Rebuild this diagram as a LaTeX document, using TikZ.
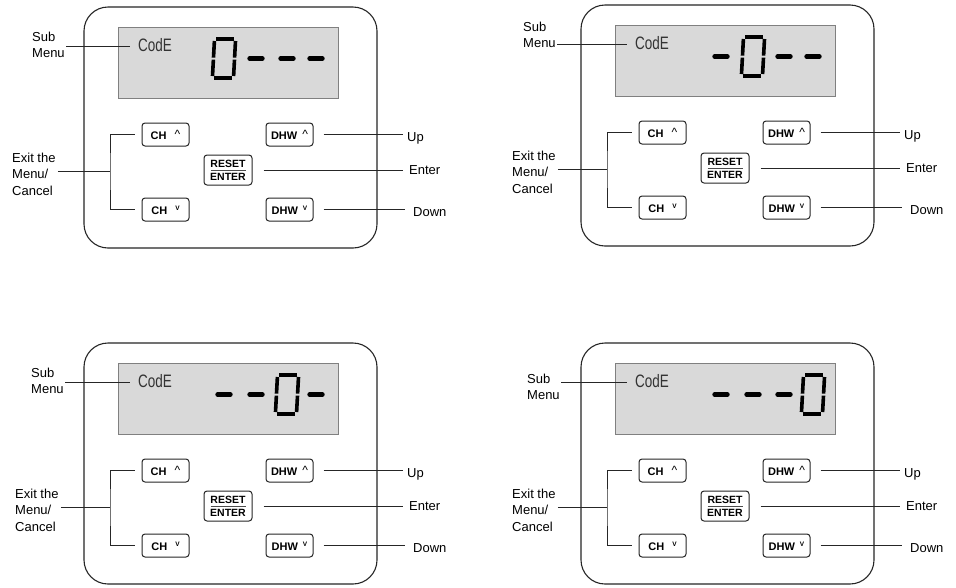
\documentclass[tikz,border=0pt]{standalone}
\usepackage{fontspec}
\setmainfont{Liberation Sans}
\tikzset{
  panelbox/.style={draw=black!85, line width=1.1pt, rounded corners=24pt, minimum width=293pt, minimum height=241pt, inner sep=0pt},
  lcd/.style={draw=black!50, line width=0.8pt, fill=black!15, minimum width=220pt, minimum height=71pt, inner sep=0pt},
  codetxt/.style={font=\fontsize{18}{18}\selectfont, text=black!80, inner sep=0pt},
  segline/.style={line width=3.6pt, line cap=butt, black},
  dashseg/.style={line width=4.8pt, line cap=round, black},
  btnbase/.style={draw=black!85, line width=1pt, rounded corners=3pt, inner sep=0pt},
  btn/.style={btnbase, minimum width=47pt, minimum height=23pt, font=\bfseries\fontsize{11}{12}\selectfont, text height=10.5pt, text depth=0pt},
  rstbtn/.style={btnbase, minimum width=48pt, minimum height=30pt, font=\bfseries\fontsize{10.5}{13}\selectfont, align=center},
  conn/.style={draw=black!85, line width=0.75pt},
  barline/.style={draw=black!70, line width=0.9pt},
  lbl/.style={font=\fontsize{13}{16.5}\selectfont, inner sep=0pt, align=left}
}
\newcommand\caretup{\raisebox{1.5pt}{\mdseries\fontsize{12}{12}\selectfont\textasciicircum}}
\newcommand\caretdown{\raisebox{4pt}{\bfseries\fontsize{6.5}{6.5}\selectfont V}}
% slanted seven-segment zero, #1 = centre x
\newcommand\zerodig[1]{%
  \draw[segline] (#1-7.7,38.8) -- (#1+9.7,38.8);
  \draw[segline] (#1-9.7,78.2) -- (#1+7.7,78.2);
  \draw[segline] (#1-9.6,41) -- (#1-10.5,57.6);
  \draw[segline] (#1-10.6,59.6) -- (#1-11.5,76);
  \draw[segline] (#1+11.5,41) -- (#1+10.6,57.6);
  \draw[segline] (#1+10.5,59.6) -- (#1+9.6,76);
}
\newcommand\dashdig[1]{%
  \draw[dashseg] (#1-6.3,58.5) -- (#1+6.3,58.5);
}
% #1 prefix, #2 dx, #3 dy, #4 slot of zero, #5 sub x, #6 sub center y, #7 exit x
\newcommand\ctrlpanel[7]{%
\begin{scope}[shift={(#2,#3)}]
  \node[panelbox] (#1box) at (230.5,127.5) {};
  \node[lcd] (#1lcd) at (228,62.5) {};
  \node[codetxt] (#1code) at (155,45.5) {\scalebox{0.75}[1]{CodE}};
  \foreach \s/\c in {1/224,2/256,3/287,4/316}{%
    \ifnum\s=#4\relax \zerodig{\c}\else \dashdig{\c}\fi
  }
  \node[btn] (#1chu) at (165.5,134.5) {CH\hspace{8pt}\caretup};
  \node[btn] (#1dhwu) at (289.5,134.5) {DHW\hspace{5pt}\caretup};
  \node[rstbtn] (#1rst) at (228,170) {RESET\\ENTER};
  \draw[barline] ([xshift=-17.5pt]#1rst.center) -- ([xshift=17.5pt]#1rst.center);
  \node[btn] (#1chd) at (165.5,209.5) {CH\hspace{8pt}\caretdown};
  \node[btn] (#1dhwd) at (289.5,209.5) {DHW\hspace{5pt}\caretdown};
  % right side labels
  \coordinate (#1upend) at (403,135);
  \coordinate (#1entend) at (403,171);
  \coordinate (#1dnend) at (405,209);
  \draw[conn] ([xshift=10pt]#1dhwu.east) -- (#1dhwu.east -| #1upend);
  \draw[conn] ([xshift=11pt]#1rst.east) -- (#1rst.east -| #1entend);
  \draw[conn] ([xshift=10pt]#1dhwd.east) -- (#1dhwd.east -| #1dnend);
  \node[lbl, anchor=base west] (#1up) at (407,141) {Up};
  \node[lbl, anchor=base west] (#1enter) at (409,174) {Enter};
  \node[lbl, anchor=base west] (#1down) at (413,216) {Down};
  % left side
  \coordinate (#1bl) at (110,171);
  \draw[conn] ([xshift=-7pt]#1chu.west) -| (#1bl) |- ([xshift=-7pt]#1chd.west);
  \node[lbl, anchor=west] (#1exit) at (#7,174) {Exit the\\Menu/\\Cancel};
  \draw[conn] ([xshift=2pt]#1exit.east |- #1bl) -- (#1bl);
  \node[lbl, anchor=west] (#1sub) at (#5,#6) {Sub\\Menu};
  \coordinate (#1subend) at (130,46);
  \draw[conn] ([xshift=1.5pt]#1sub.east |- #1subend) -- (#1subend);
\end{scope}}
\begin{document}
\begin{tikzpicture}[x=1pt,y=-1pt]
  \fill[white] (0,0) rectangle (956,587);
  \useasboundingbox (0,0) rectangle (956,587);
  \ctrlpanel{pa}{0}{0}{1}{32}{45}{12}
  \ctrlpanel{pb}{497}{-2}{2}{26}{37}{15}
  \ctrlpanel{pc}{0}{336}{3}{31}{45}{15}
  \ctrlpanel{pd}{497}{336}{4}{30}{51}{15}
\end{tikzpicture}
\end{document}
